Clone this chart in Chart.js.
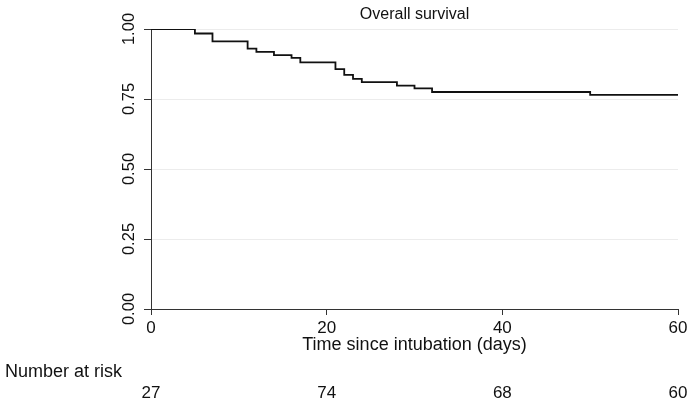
<!DOCTYPE html>
<html>
<head>
<meta charset="utf-8">
<script src="https://cdn.jsdelivr.net/npm/chart.js@4"></script>
<style>
html,body{margin:0;padding:0;background:#fff;}
canvas{display:block;}
</style>
</head>
<body>
<canvas id="c" width="694" height="408"></canvas>
<script>
// Kaplan-Meier step data
const times    = [0, 5, 7, 11, 12, 14, 16, 17, 21, 22, 23, 24, 28, 30, 32, 50, 60];
const survival = [1.000, 0.984, 0.956, 0.930, 0.918, 0.907, 0.897, 0.881, 0.857, 0.836, 0.822, 0.810, 0.798, 0.788, 0.775, 0.765, 0.765];

// Number at risk table
const riskTimes  = [0, 20, 40, 60];
const riskCounts = [27, 74, 68, 60];

const xTicks = [0, 20, 40, 60];
const yTicks = [0, 0.25, 0.5, 0.75, 1.0];

const titleText  = 'Overall survival';
const xTitleText = 'Time since intubation (days)';
const riskLabel  = 'Number at risk';

const FONT = "'Liberation Sans', Arial, Helvetica, sans-serif";
const AXIS = '#333333';

const points = times.map((t, i) => ({x: t, y: survival[i]}));

const riskPlugin = {
  id: 'riskTable',
  afterDraw(chart) {
    const ctx = chart.ctx;
    const xs = chart.scales.x;
    ctx.save();
    ctx.fillStyle = '#111';
    ctx.font = '18px ' + FONT;
    ctx.textAlign = 'left';
    ctx.textBaseline = 'alphabetic';
    ctx.fillText(riskLabel, 5, 377);
    ctx.font = '17px ' + FONT;
    ctx.textAlign = 'center';
    riskTimes.forEach((t, i) => {
      ctx.fillText(String(riskCounts[i]), xs.getPixelForValue(t), 398);
    });
    ctx.restore();
  }
};

new Chart(document.getElementById('c'), {
  type: 'line',
  data: {
    datasets: [{
      data: points,
      stepped: 'before',
      borderColor: '#111',
      borderWidth: 1.8,
      pointRadius: 0,
      fill: false,
      tension: 0
    }]
  },
  options: {
    responsive: false,
    animation: false,
    devicePixelRatio: 1,
    layout: { padding: { left: 0, right: 16, top: 0, bottom: 0 } },
    plugins: {
      legend: { display: false },
      tooltip: { enabled: false },
      title: {
        display: true,
        text: titleText,
        fullSize: false,
        color: '#111',
        font: { family: FONT, size: 16, weight: 'normal', lineHeight: 1.2 },
        padding: { top: 5, bottom: 4.8 }
      }
    },
    scales: {
      x: {
        type: 'linear',
        min: 0,
        max: 60,
        afterBuildTicks: s => { s.ticks = xTicks.map(v => ({value: v})); },
        afterFit: s => { s.height = 99; },
        ticks: {
          autoSkip: false,
          maxRotation: 0,
          minRotation: 0,
          padding: 3,
          color: '#111',
          font: { family: FONT, size: 17 },
          callback: v => String(v)
        },
        grid: {
          drawOnChartArea: false,
          drawTicks: true,
          tickLength: 6,
          tickColor: AXIS,
          tickWidth: 1
        },
        border: { display: true, color: AXIS, width: 1 },
        title: {
          display: true,
          text: xTitleText,
          color: '#111',
          font: { family: FONT, size: 18, lineHeight: 1.2 },
          padding: { top: 0, bottom: 52 }
        }
      },
      y: {
        type: 'linear',
        min: 0,
        max: 1,
        afterBuildTicks: s => { s.ticks = yTicks.map(v => ({value: v})); },
        afterFit: s => { s.width = 151; },
        ticks: {
          autoSkip: false,
          minRotation: 90,
          maxRotation: 90,
          crossAlign: 'center',
          padding: -2,
          color: '#111',
          font: { family: FONT, size: 16.5 },
          callback: v => Number(v).toFixed(2)
        },
        grid: {
          drawOnChartArea: true,
          color: c => (c.tick && c.tick.value === 0) ? 'rgba(0,0,0,0)' : '#ececec',
          lineWidth: 1,
          drawTicks: true,
          tickLength: 7,
          tickColor: AXIS
        },
        border: { display: true, color: AXIS, width: 1 }
      }
    }
  },
  plugins: [riskPlugin]
});
</script>
</body>
</html>
